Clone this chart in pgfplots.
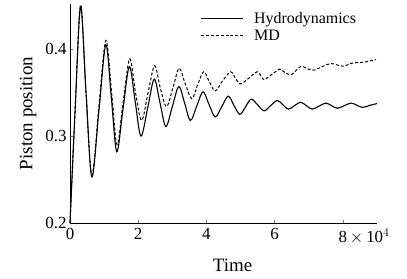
\documentclass[border=0pt]{standalone}
\usepackage{pgfplots}
\pgfplotsset{compat=1.18}
\usepackage{fontspec}
\setmainfont{Liberation Serif}
\newcommand{\legfont}{\fontsize{16}{18}\selectfont}
\begin{document}
\begin{tikzpicture}
\begin{axis}[
  scale only axis,
  width=307bp, height=219bp,
  xmin=0, xmax=9, ymin=0.2, ymax=0.452,
  axis x line*=bottom, axis y line*=left,
  axis line style={-, line width=0.9pt},
  xtick={0,2,4,6,8},
  xticklabels={0,2,4,6,{8\rlap{$\,\times\,$10$^{4}$}}},
  ytick={0.2,0.3,0.4},
  yticklabels={0.2,0.3,0.4},
  tick align=inside,
  major tick length=3bp,
  tick style={line width=0.6pt},
  ticklabel style={font=\fontsize{17}{20}\selectfont},
  xticklabel style={yshift=-2bp},
  /pgf/number format/assume math mode=true,
  xlabel={Time}, ylabel={Piston position},
  label style={font=\fontsize{19}{22}\selectfont},
  xlabel style={yshift=-8bp, xshift=9bp},
  ylabel style={yshift=2bp},
  legend style={draw=none, fill=none, at={(rel axis cs:0.423,1.0)}, anchor=north west,
    yshift=-6bp, inner sep=0pt, row sep=1bp, column sep=0pt},
  legend cell align=left,
  legend image code/.code={\draw[#1] (0bp,0bp) -- (42bp,0bp);},
  clip=false,
]
\addplot[black, line width=1.1pt, smooth, tension=0.55] coordinates {
(0,0.20) (0.15,0.33) (0.31,0.449) (0.47,0.35) (0.64,0.253) (0.85,0.33)
(1.05,0.405) (1.21,0.345) (1.37,0.282) (1.55,0.33) (1.74,0.380) (1.91,0.34)
(2.08,0.300) (2.28,0.333) (2.47,0.3655) (2.64,0.338) (2.81,0.311) (3.0,0.334)
(3.19,0.357) (3.36,0.338) (3.53,0.318) (3.72,0.335) (3.90,0.351) (4.08,0.336)
(4.26,0.322) (4.45,0.334) (4.64,0.346) (4.81,0.335) (4.98,0.325) (5.15,0.334)
(5.31,0.3425) (5.50,0.336) (5.69,0.329) (5.88,0.335) (6.08,0.341) (6.24,0.336)
(6.40,0.331) (6.58,0.335) (6.76,0.339) (6.93,0.335) (7.10,0.331) (7.30,0.3345)
(7.50,0.338) (7.67,0.335) (7.84,0.332) (8.04,0.335) (8.24,0.338) (8.41,0.3355)
(8.58,0.333) (8.80,0.3355) (9.0,0.3375)
};
\addlegendentry{\legfont\hspace{9bp}Hydrodynamics}
\addplot[black, line width=1.0pt, dash pattern=on 3pt off 2pt, smooth, tension=0.55] coordinates {
(0,0.20) (0.15,0.33) (0.31,0.451) (0.47,0.35) (0.64,0.255) (0.85,0.335)
(1.05,0.41) (1.22,0.35) (1.38,0.29) (1.56,0.34) (1.75,0.389) (1.92,0.35)
(2.10,0.318) (2.29,0.35) (2.48,0.381) (2.65,0.355) (2.83,0.334) (3.02,0.356)
(3.20,0.378) (3.38,0.36) (3.57,0.343) (3.75,0.36) (3.92,0.374) (4.09,0.362)
(4.26,0.352) (4.48,0.364) (4.71,0.374) (4.86,0.366) (5.00,0.360) (5.25,0.367)
(5.49,0.374) (5.60,0.369) (5.69,0.365) (5.92,0.371) (6.15,0.377) (6.30,0.373)
(6.50,0.371) (6.76,0.380) (7.0,0.377) (7.16,0.376) (7.40,0.380) (7.65,0.3835)
(7.99,0.3805) (8.28,0.384) (8.6,0.385) (8.97,0.388)
};
\addlegendentry{\legfont\hspace{9bp}MD}
\path (rel axis cs:0,0) ++(-70bp,-55bp) (rel axis cs:1,1) ++(30bp,4bp);
\end{axis}
\end{tikzpicture}
\end{document}
